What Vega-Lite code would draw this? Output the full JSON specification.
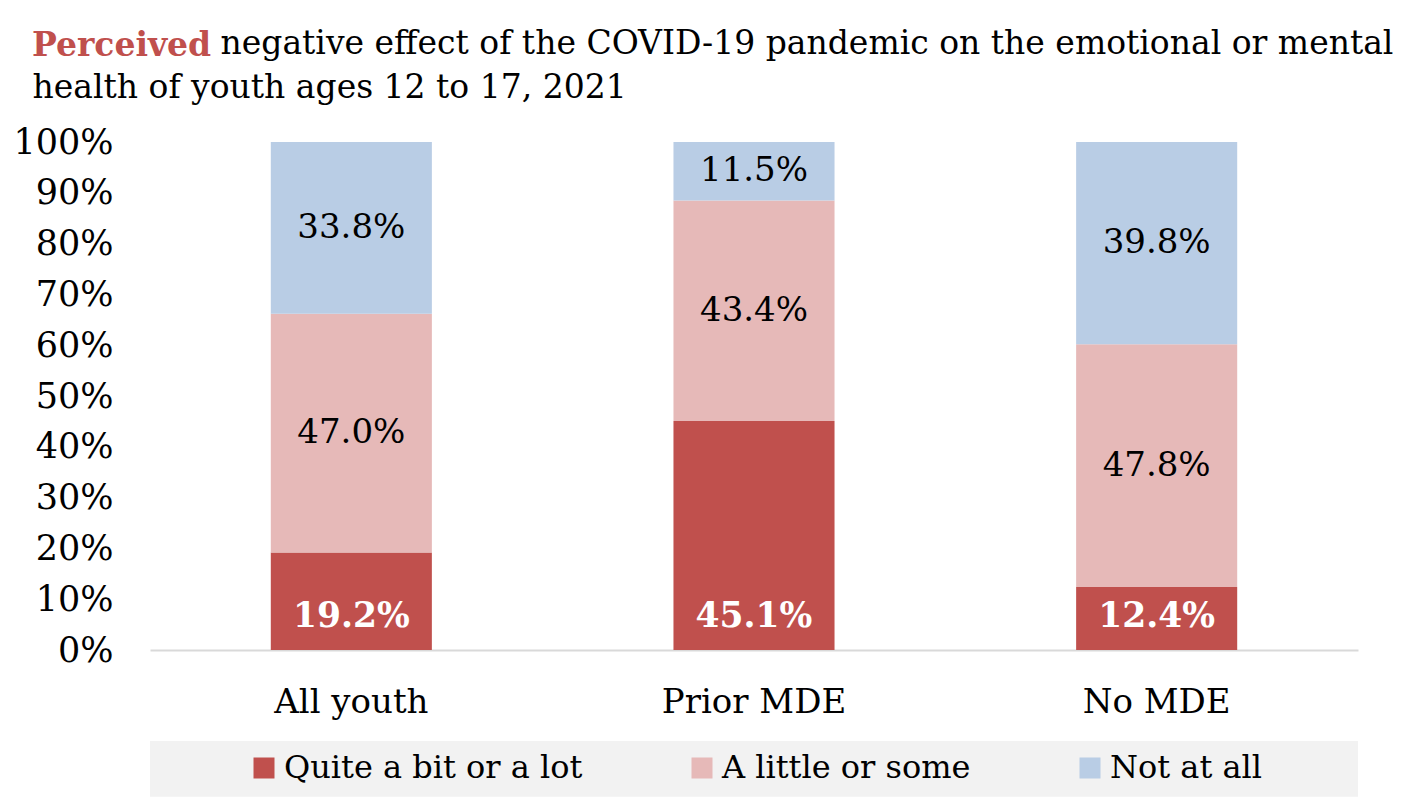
{
  "$schema": "https://vega.github.io/schema/vega-lite/v6.json",
  "width": 1208,
  "height": 508,
  "autosize": "none",
  "padding": {"left": 150, "top": 142, "right": 68, "bottom": 154},
  "background": "white",
  "config": {"view": {"stroke": null}, "font": "DejaVu Serif"},
  "title": {
    "text": "Perceived",
    "color": "#c0504d",
    "fontWeight": "bold",
    "fontSize": 33,
    "font": "DejaVu Serif",
    "anchor": "start",
    "frame": "group",
    "baseline": "alphabetic",
    "offset": 0,
    "dx": -118,
    "dy": 62
  },
  "data": {
    "values": [
      {"group": "All youth", "response": "Quite a bit or a lot", "level": 1, "value": 0.192},
      {"group": "All youth", "response": "A little or some", "level": 2, "value": 0.470},
      {"group": "All youth", "response": "Not at all", "level": 3, "value": 0.338},
      {"group": "Prior MDE", "response": "Quite a bit or a lot", "level": 1, "value": 0.451},
      {"group": "Prior MDE", "response": "A little or some", "level": 2, "value": 0.434},
      {"group": "Prior MDE", "response": "Not at all", "level": 3, "value": 0.115},
      {"group": "No MDE", "response": "Quite a bit or a lot", "level": 1, "value": 0.124},
      {"group": "No MDE", "response": "A little or some", "level": 2, "value": 0.478},
      {"group": "No MDE", "response": "Not at all", "level": 3, "value": 0.398}
    ]
  },
  "layer": [
    {
      "data": {"values": [{}]},
      "mark": {"type": "rect", "color": "#f2f2f2"},
      "encoding": {
        "y": {"datum": -0.179, "type": "quantitative"},
        "y2": {"datum": -0.289}
      }
    },
    {
      "mark": {"type": "bar"},
      "encoding": {
        "x": {
          "field": "group",
          "type": "nominal",
          "sort": ["All youth", "Prior MDE", "No MDE"],
          "scale": {"paddingInner": 0.6, "paddingOuter": 0.3},
          "axis": {
            "title": "health of youth ages 12 to 17, 2021",
            "titleFont": "DejaVu Serif",
            "titleFontSize": 33,
            "titleFontWeight": "normal",
            "titleColor": "#000000",
            "titleAlign": "left",
            "titleBaseline": "alphabetic",
            "titleX": -118,
            "titleY": -553,
            "labelAngle": 0,
            "labelFontSize": 34,
            "labelFont": "DejaVu Serif",
            "labelColor": "#000000",
            "labelPadding": 35,
            "labelLimit": 0,
            "domainColor": "#d9d9d9",
            "domainWidth": 2,
            "ticks": false
          }
        },
        "y": {
          "field": "value",
          "type": "quantitative",
          "stack": "zero",
          "scale": {"domain": [0, 1]},
          "axis": {
            "title": "negative effect of the COVID-19 pandemic on the emotional or mental",
            "titleFont": "DejaVu Serif",
            "titleFontSize": 33,
            "titleFontWeight": "normal",
            "titleColor": "#000000",
            "titleAngle": 0,
            "titleAlign": "left",
            "titleBaseline": "alphabetic",
            "titleX": 70,
            "titleY": -89,
            "format": ".0%",
            "values": [0, 0.1, 0.2, 0.3, 0.4, 0.5, 0.6, 0.7, 0.8, 0.9, 1],
            "grid": false,
            "domain": false,
            "ticks": false,
            "labelFontSize": 35,
            "labelFont": "DejaVu Serif",
            "labelColor": "#000000",
            "labelPadding": 37
          }
        },
        "color": {
          "field": "response",
          "type": "nominal",
          "scale": {
            "domain": ["Quite a bit or a lot", "A little or some", "Not at all"],
            "range": ["#c0504d", "#e6b9b8", "#b9cde5"]
          },
          "legend": {
            "title": null,
            "orient": "none",
            "direction": "horizontal",
            "legendX": 98,
            "legendY": 610,
            "symbolType": "square",
            "symbolSize": 441,
            "symbolStrokeWidth": 0,
            "symbolOpacity": 1,
            "labelFontSize": 32,
            "labelFont": "DejaVu Serif",
            "labelColor": "#000000",
            "labelOffset": 4,
            "labelLimit": 0,
            "columnPadding": 103,
            "padding": 0
          }
        },
        "order": {"field": "level", "type": "quantitative", "sort": "ascending"}
      }
    },
    {
      "transform": [
        {"window": [{"op": "sum", "field": "value", "as": "cum"}], "groupby": ["group"], "sort": [{"field": "level"}], "frame": [null, 0]},
        {"calculate": "datum.cum - datum.value / 2", "as": "mid"},
        {"filter": "datum.level > 1"}
      ],
      "mark": {"type": "text", "color": "#000000", "fontSize": 34, "font": "DejaVu Serif", "baseline": "middle"},
      "encoding": {
        "x": {"field": "group", "type": "nominal", "sort": ["All youth", "Prior MDE", "No MDE"]},
        "y": {"field": "mid", "type": "quantitative"},
        "text": {"field": "value", "type": "quantitative", "format": ".1%"}
      }
    },
    {
      "transform": [{"filter": "datum.level == 1"}],
      "mark": {"type": "text", "color": "#ffffff", "fontSize": 34.5, "fontWeight": "bold", "font": "DejaVu Serif", "baseline": "middle", "dy": -33},
      "encoding": {
        "x": {"field": "group", "type": "nominal", "sort": ["All youth", "Prior MDE", "No MDE"]},
        "y": {"datum": 0, "type": "quantitative"},
        "text": {"field": "value", "type": "quantitative", "format": ".1%"}
      }
    }
  ]
}
